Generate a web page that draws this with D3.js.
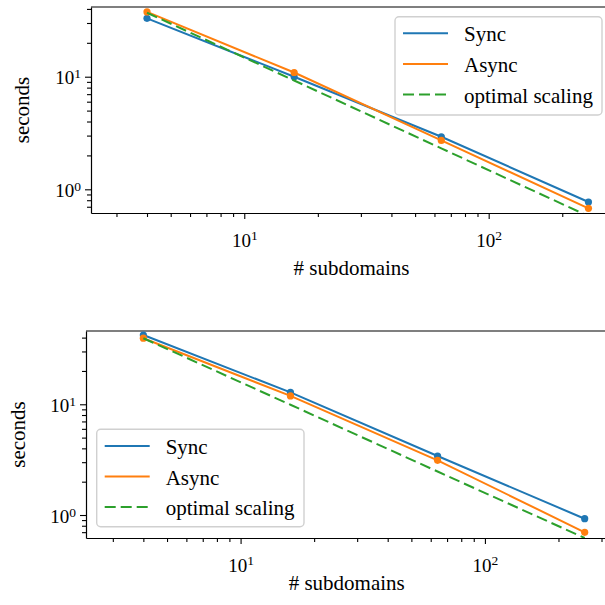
<!DOCTYPE html>
<head>
  <meta charset="utf-8">
  <script src="https://d3js.org/d3.v7.min.js"></script>
  <style>
    body { margin: 0; background: #fff; }
    path.domain { stroke: #000; stroke-width: 1.2; }
    .tick line { stroke: #000; stroke-width: 1.1; }
  </style>
</head>
<body>
<script>
// data
const subdomains = [4, 16, 64, 256];
const syncTop = [33.0, 10.0, 2.93, 0.771];
const asyncTop = [37.6, 10.9, 2.72, 0.678];
const optimalTop = [37.0, 9.25, 2.31, 0.578];
const syncBottom = [42.2, 12.8, 3.41, 0.926];
const asyncBottom = [39.5, 11.9, 3.12, 0.698];
const optimalBottom = [39.5, 9.9, 2.47, 0.62];
const seriesNames = ['Sync', 'Async', 'optimal scaling'];
const colours = ['#1f77b4', '#ff7f0e', '#2ca02c'];
const xMajor = [10, 100];
const xMinor = [3, 4, 5, 6, 7, 8, 9, 20, 30, 40, 50, 60, 70, 80, 90, 200, 300];
const yMajor = [1, 10];
const yMinor = [0.7, 0.8, 0.9, 2, 3, 4, 5, 6, 7, 8, 9, 20, 30, 40];

const serif = '"Liberation Serif"';
const dash = '11,5';

var width = 605, height = 605;
var svg = d3.select('body').append('svg')
  .attr('width', width)
  .attr('height', height)
  .style('font-family', serif);

const panels = [
  {sync: syncTop, async: asyncTop, optimal: optimalTop,
   left: 91, right: 610, top: 7, bottom: 213,
   xDomain: [2.36, 313.6], yDomain: [0.616, 41.6],
   legend: {x: 395, y: 16.7, w: 207, h: 98.3},
   yLabelX: 28.5, xLabelX: 351.5, xLabelY: 275},
  {sync: syncBottom, async: asyncBottom, optimal: optimalBottom,
   left: 86, right: 610, top: 331, bottom: 538,
   xDomain: [2.33, 325], yDomain: [0.62, 45.9],
   legend: {x: 96.7, y: 429.3, w: 207.3, h: 97.4},
   yLabelX: 25, xLabelX: 346.7, xLabelY: 590}
];

function powerLabel(sel) {
  sel.each(function(d) {
    let t = d3.select(this)
      .style('font-family', serif)
      .style('font-size', '19px')
      .attr('fill', '#000');
    t.text('');
    t.append('tspan').text('10');
    t.append('tspan')
      .attr('dy', '-0.45em')
      .style('font-size', '13.5px')
      .text(Math.round(Math.log10(d)));
  });
}

panels.forEach((p, k) => {
  let x = d3.scaleLog().domain(p.xDomain).range([p.left, p.right]);
  let y = d3.scaleLog().domain(p.yDomain).range([p.bottom, p.top]);
  let g = svg.append('g');

  let clipId = 'clip' + k;
  g.append('clipPath').attr('id', clipId)
    .append('rect')
    .attr('x', p.left).attr('y', p.top)
    .attr('width', p.right - p.left).attr('height', p.bottom - p.top);

  // minor ticks
  g.append('g')
    .attr('transform', `translate(0,${p.bottom})`)
    .call(d3.axisBottom(x).tickValues(xMinor).tickSize(4).tickFormat(''))
    .select('.domain').remove();
  g.append('g')
    .attr('transform', `translate(${p.left},0)`)
    .call(d3.axisLeft(y).tickValues(yMinor.filter(v => v >= p.yDomain[0] && v <= p.yDomain[1])).tickSize(4).tickFormat(''))
    .select('.domain').remove();

  // major ticks
  let xa = g.append('g')
    .attr('transform', `translate(0,${p.bottom})`)
    .call(d3.axisBottom(x).tickValues(xMajor).tickSize(6).tickSizeOuter(0));
  xa.selectAll('.tick text')
    .attr('y', 0).attr('dy', 0)
    .attr('transform', 'translate(0,33.5)')
    .call(powerLabel);

  let ya = g.append('g')
    .attr('transform', `translate(${p.left},0)`)
    .call(d3.axisLeft(y).tickValues(yMajor).tickSize(6).tickSizeOuter(0));
  ya.selectAll('.tick text')
    .attr('x', -10).attr('dy', '0.38em')
    .call(powerLabel);

  // top spine
  g.append('line')
    .attr('x1', p.left).attr('x2', p.right)
    .attr('y1', p.top).attr('y2', p.top)
    .attr('stroke', '#000').attr('stroke-width', 1.2);

  let line = d3.line().x((d, i) => x(subdomains[i])).y(d => y(d));
  let plot = g.append('g').attr('clip-path', `url(#${clipId})`);
  [p.sync, p.async].forEach((vals, i) => {
    plot.append('path')
      .attr('d', line(vals))
      .attr('fill', 'none')
      .attr('stroke', colours[i])
      .attr('stroke-width', 2);
    plot.selectAll('circle.s' + i)
      .data(vals)
      .enter()
      .append('circle')
      .attr('class', 's' + i)
      .attr('cx', (d, j) => x(subdomains[j]))
      .attr('cy', d => y(d))
      .attr('r', 3.6)
      .attr('fill', colours[i]);
  });
  plot.append('path')
    .attr('d', line(p.optimal))
    .attr('fill', 'none')
    .attr('stroke', colours[2])
    .attr('stroke-width', 2)
    .attr('stroke-dasharray', dash);

  // axis labels
  g.append('text')
    .attr('x', p.xLabelX).attr('y', p.xLabelY)
    .style('font-family', serif).style('font-size', '21px')
    .style('text-anchor', 'middle')
    .text('# subdomains');
  g.append('text')
    .attr('transform', `translate(${p.yLabelX},${(p.top + p.bottom) / 2}) rotate(-90)`)
    .style('font-family', serif).style('font-size', '21px')
    .style('text-anchor', 'middle')
    .text('seconds');

  // legend
  let L = p.legend;
  let lg = g.append('g');
  lg.append('rect')
    .attr('x', L.x).attr('y', L.y)
    .attr('width', L.w).attr('height', L.h)
    .attr('rx', 4)
    .attr('fill', '#fff').attr('fill-opacity', 0.8)
    .attr('stroke', '#d0d0d0').attr('stroke-width', 1.4);
  seriesNames.forEach((name, i) => {
    let cy = L.y + 16.6 + i * 30.6;
    lg.append('line')
      .attr('x1', L.x + 8).attr('x2', L.x + 53)
      .attr('y1', cy).attr('y2', cy)
      .attr('stroke', colours[i]).attr('stroke-width', 2)
      .attr('stroke-dasharray', i == 2 ? dash : null);
    lg.append('text')
      .attr('x', L.x + 69).attr('y', cy + 8)
      .style('font-family', serif).style('font-size', '21px')
      .text(name);
  });
});
</script>
</body>
